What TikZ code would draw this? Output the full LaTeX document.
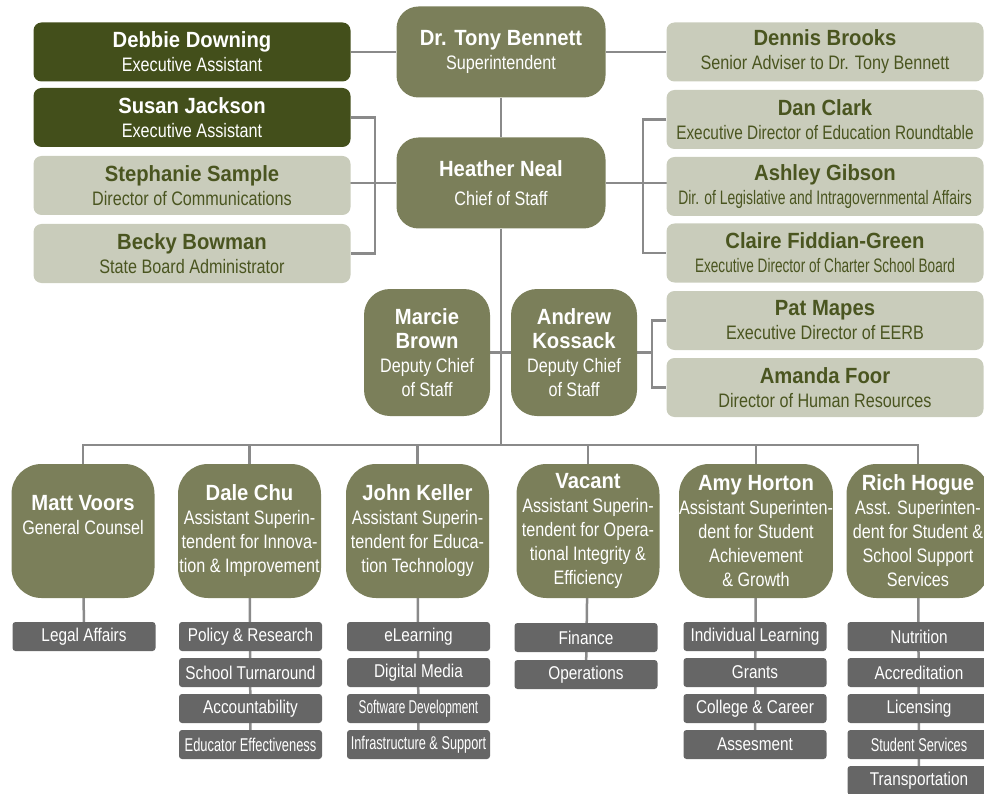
\documentclass[tikz,border=0pt]{standalone}
\usepackage{fontspec}
\setmainfont{Liberation Sans}[FakeStretch=0.83]
\newfontfamily\namefont{Liberation Sans}[FakeStretch=0.92]
\usetikzlibrary{backgrounds}
\definecolor{darkolive}{HTML}{434F1B}
\definecolor{chiefolive}{HTML}{7B7F5A}
\definecolor{sage}{HTML}{C9CCBB}
\definecolor{sagetext}{HTML}{4A5520}
\definecolor{deptgrey}{HTML}{666666}
\definecolor{linkgrey}{HTML}{8A8A8A}
\newcommand{\who}[1]{{\namefont\bfseries\fontsize{22}{24}\selectfont #1}}
\newcommand{\squeeze}[2]{\scalebox{#1}[1]{#2}}

\begin{document}
\begin{tikzpicture}[x=1pt,y=-1pt,font=\fontsize{19.5}{24}\selectfont,
  link/.style={draw=linkgrey,line width=2.5pt},
  card/.style={rounded corners=8pt,minimum width=317pt,minimum height=59pt,inner sep=0pt,align=center},
  staffcard/.style={card,fill=sage,text=sagetext},
  aidecard/.style={card,fill=darkolive,text=white},
  topcard/.style={fill=chiefolive,text=white,rounded corners=22pt,minimum width=209pt,minimum height=91pt,inner sep=0pt,align=center},
  deputycard/.style={fill=chiefolive,text=white,rounded corners=26pt,minimum width=126pt,minimum height=127pt,inner sep=0pt,align=center},
  headcard/.style={fill=chiefolive,text=white,rounded corners=30pt,minimum width=143pt,minimum height=134pt,inner sep=0pt,align=center},
  deptbox/.style={fill=deptgrey,text=white,rounded corners=3pt,minimum width=143pt,minimum height=29pt,inner sep=0pt,font=\fontsize{18.5}{20}\selectfont}]
\useasboundingbox (0,0) rectangle (984,794);
\clip (0,0) rectangle (984,794);
% top row and left column
\node[aidecard] (debbie) at (192,52) {\who{Debbie Downing}\\Executive Assistant};
\node[aidecard] (susan) at (192,117.5) {\who{Susan Jackson}\\Executive Assistant};
\node[staffcard] (stephanie) at (192,185.5) {\who{Stephanie Sample}\\Director of Communications};
\node[staffcard] (becky) at (192,253.5) {\who{Becky Bowman}\\State Board Administrator};
\node[topcard] (tony) at (501,52) {\who{Dr. Tony Bennett}\\Superintendent};
\node[topcard] (heather) at (501,183) {\who{Heather Neal}\\[5pt]Chief of Staff};
% right column
\node[staffcard] (dennis) at (825,52) {\who{Dennis Brooks}\\Senior Adviser to Dr. Tony Bennett};
\node[staffcard] (dan) at (825,119.5) {\who{Dan Clark}\\\squeeze{0.95}{Executive Director of Education Roundtable}};
\node[staffcard] (ashley) at (825,186.5) {\who{Ashley Gibson}\\\squeeze{0.86}{Dir. of Legislative and Intragovernmental Affairs}};
\node[staffcard] (claire) at (825,253) {\who{Claire Fiddian-Green}\\\squeeze{0.84}{Executive Director of Charter School Board}};
\node[staffcard] (pat) at (825,320.5) {\who{Pat Mapes}\\Executive Director of EERB};
\node[staffcard] (amanda) at (825,387.5) {\who{Amanda Foor}\\Director of Human Resources};
% deputies
\node[deputycard] (marcie) at (427,352.5) {\who{Marcie}\\\who{Brown}\\Deputy Chief\\of Staff};
\node[deputycard] (andrew) at (574,352.5) {\who{Andrew}\\\who{Kossack}\\Deputy Chief\\of Staff};
% division heads
\node[headcard] (matt) at (83,531) {\who{Matt Voors}\\General Counsel\\\strut};
\node[headcard] (dale) at (249.5,531) {\who{Dale Chu}\\Assistant Superin-\\tendent for Innova-\\tion \& Improvement};
\node[headcard] (john) at (417.5,531) {\who{John Keller}\\Assistant Superin-\\tendent for Educa-\\tion Technology};
\node[headcard] (vacant) at (588,531) {\who{Vacant}\\Assistant Superin-\\tendent for Opera-\\tional Integrity \&\\Efficiency};
\node[headcard] (amy) at (756,531) {\who{Amy Horton}\\Assistant Superinten-\\dent for Student\\Achievement\\\& Growth};
\node[headcard] (rich) at (918,531) {\who{Rich Hogue}\\Asst. Superinten-\\dent for Student \&\\School Support\\Services};
% offices
\node[deptbox] (matt1) at (84,636.5) {Legal Affairs};
\foreach \d [count=\i] in {Policy \& Research,School Turnaround,Accountability,\squeeze{0.84}{Educator Effectiveness}}
  \node[deptbox] (dale\i) at (250.5,{636.5+36*(\i-1)}) {\d};
\foreach \d [count=\i] in {eLearning,Digital Media,\squeeze{0.77}{Software Development},\squeeze{0.83}{Infrastructure \& Support}}
  \node[deptbox] (john\i) at (418.5,{636.5+36*(\i-1)}) {\d};
\foreach \d [count=\i] in {Finance,Operations}
  \node[deptbox] (vacant\i) at (586,{637.5+37*(\i-1)}) {\d};
\foreach \d [count=\i] in {Individual Learning,Grants,College \& Career,Assesment}
  \node[deptbox] (amy\i) at (755,{636.5+36*(\i-1)}) {\d};
\foreach \d [count=\i] in {Nutrition,Accreditation,Licensing,\squeeze{0.83}{Student Services},Transportation}
  \node[deptbox] (rich\i) at (919,{636.5+36*(\i-1)}) {\d};
% connectors
\coordinate (lbr) at (375,0);
\coordinate (rbr) at (643,0);
\coordinate (abr) at (652,0);
\coordinate (bus) at (0,445);
\begin{pgfonlayer}{background}
\draw[link] (debbie) -- (tony) -- (dennis);
\draw[link] (tony) -- (heather);
\draw[link] (susan) -- (susan -| lbr) -- (becky -| lbr) -- (becky);
\draw[link] (heather) -- (heather -| stephanie);
\draw[link] (heather) -- (heather -| ashley);
\draw[link] (dan) -- (dan -| rbr) -- (claire -| rbr) -- (claire);
\draw[link] (heather) -- (heather |- bus);
\draw[link] (marcie) -- (andrew);
\draw[link] (andrew) -- (andrew -| abr);
\draw[link] (pat) -- (pat -| abr) -- (amanda -| abr) -- (amanda);
\draw[link] (matt) -- (matt |- bus) -- (rich |- bus) -- (rich);
\foreach \h in {dale,john,vacant,amy} \draw[link] (\h) -- (\h |- bus);
\draw[link] (matt) -- (matt1);
\draw[link] (dale) -- (dale4);
\draw[link] (john) -- (john4);
\draw[link] (vacant) -- (vacant2);
\draw[link] (amy) -- (amy4);
\draw[link] (rich) -- (rich5);
\end{pgfonlayer}
\end{tikzpicture}
\end{document}
